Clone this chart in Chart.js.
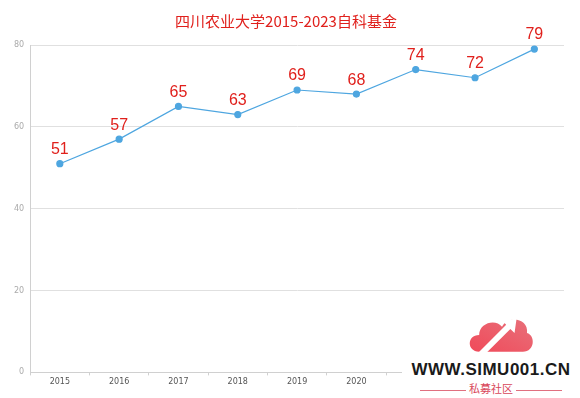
<!DOCTYPE html>
<html>
<head>
<meta charset="utf-8">
<script src="https://cdn.jsdelivr.net/npm/chart.js@4"></script>
<style>
  html, body { margin: 0; padding: 0; background: #fff; }
  #wrap { position: relative; width: 580px; height: 398px; }
  #logo { position: absolute; left: 460px; top: 306px; }
  #wm { position: absolute; left: 402px; top: 356px; width: 178px; height: 42px; background: #fff; text-align: center; }
  #wm .url { font-family: "Liberation Sans", Arial, sans-serif; font-size: 17px; font-weight: bold; color: #1a1a1a; letter-spacing: 0.5px; line-height: 22px; margin-top: 3px; }
  #wm .sub { font-family: "Noto Sans CJK SC", sans-serif; font-size: 11px; color: #d9475a; line-height: 14px; }
  #wm .sub span { display: inline-block; width: 46px; height: 1px; background: #e07080; vertical-align: middle; margin: 0 3px; }
</style>
</head>
<body>
<div id="wrap">
  <canvas id="c" width="580" height="398"></canvas>
  <svg id="logo" width="82" height="52" viewBox="0 0 70 50">
    <defs><linearGradient id="g" x1="0" y1="1" x2="1" y2="0"><stop offset="0" stop-color="#f04a5a"/><stop offset="1" stop-color="#e8707a"/></linearGradient></defs>
    <path d="M14 44 C2 44 2 28 14 28 C14 16 30 12 36 20 C42 8 62 12 60 26 C68 28 68 44 56 44 Z" fill="url(#g)"/>
    <path d="M10 48 L40 18 L36 14 L50 12 L48 26 L44 22 L16 50 Z" fill="#fff"/>
  </svg>
  <div id="wm"><div class="url">WWW.SIMU001.CN</div><div class="sub"><span></span>私募社区<span></span></div></div>
</div>
<script>
var years = ["2015", "2016", "2017", "2018", "2019", "2020", "2021", "2022", "2023"];
var counts = [51, 57, 65, 63, 69, 68, 74, 72, 79];

// draw the value above every point
var valueLabels = {
  id: 'valueLabels',
  afterDatasetsDraw: function(chart) {
    var ctx = chart.ctx;
    var meta = chart.getDatasetMeta(0);
    ctx.save();
    ctx.fillStyle = '#e0201c';
    ctx.font = '16px "Liberation Sans", Arial, sans-serif';
    ctx.textAlign = 'center';
    ctx.textBaseline = 'bottom';
    meta.data.forEach(function(pt, i) {
      ctx.fillText(counts[i], pt.x, pt.y - 6);
    });
    ctx.restore();
  }
};

new Chart(document.getElementById('c'), {
  type: 'line',
  data: {
    labels: years,
    datasets: [{
      data: counts,
      borderColor: '#4ea6e0',
      backgroundColor: '#4ea6e0',
      borderWidth: 1.2,
      pointRadius: 3,
      pointHoverRadius: 3,
      tension: 0
    }]
  },
  options: {
    responsive: false,
    animation: false,
    layout: { padding: { left: 8, right: 16, top: 4, bottom: 9 } },
    plugins: {
      legend: { display: false },
      tooltip: { enabled: false },
      title: {
        display: true,
        text: '四川农业大学2015-2023自科基金',
        color: '#e0201c',
        font: { size: 15, weight: 'normal', family: '"Noto Sans CJK SC", sans-serif' },
        padding: { top: 8, bottom: 15 }
      }
    },
    scales: {
      x: {
        offset: true,
        grid: { display: true, drawOnChartArea: false, offset: true, color: '#d0d0d0', tickLength: 3 },
        border: { color: '#d0d0d0' },
        ticks: { color: '#555', font: { size: 8, family: '"DejaVu Sans", sans-serif' }, padding: 2 }
      },
      y: {
        min: 0,
        max: 80,
        grid: { color: '#e0e0e0', drawTicks: false },
        border: { color: '#d0d0d0' },
        ticks: { stepSize: 20, color: '#aaa', font: { size: 8, family: '"DejaVu Sans", sans-serif' }, padding: 6 }
      }
    }
  },
  plugins: [valueLabels]
});
</script>
</body>
</html>
